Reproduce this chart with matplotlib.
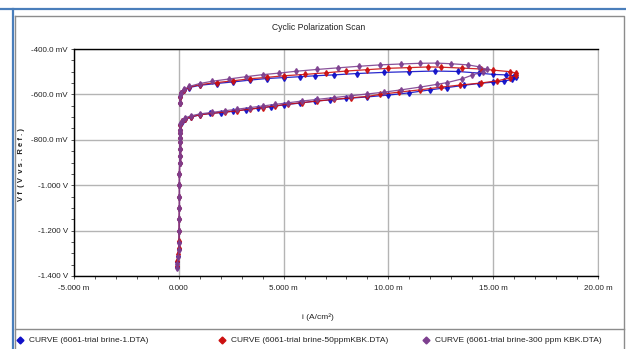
import matplotlib

matplotlib.use("Agg")
import matplotlib.pyplot as plt
from matplotlib.lines import Line2D
from matplotlib.ticker import FixedLocator, MultipleLocator

plt.rcParams["font.family"] = ["Liberation Sans Narrow", "Liberation Sans", "DejaVu Sans"]

# currents in mA/cm2, potentials in mV
i_blue = [-0.10, -0.07, -0.04, 0.00, 0.01, 0.02, 0.02, 0.03, 0.03, 0.03, 0.03, 0.04,
          0.04, 0.04, 0.05, 0.05, 0.05,
          0.06, 0.08, 0.15, 0.3, 0.6, 1.0, 1.5, 2.0, 2.6, 3.2, 3.8, 4.4, 5.0, 5.8,
          6.5, 7.2, 8.0, 9.0, 10.0, 11.0, 12.0, 12.8, 13.6, 14.3, 15.0, 15.5, 15.9,
          16.1, 16.0,
          15.6, 15.0, 14.3, 13.3, 12.2, 11.0, 9.8, 8.5, 7.4, 6.5, 5.8, 5.0, 4.2,
          3.4, 2.6, 1.8, 1.0, 0.5, 0.25, 0.12, 0.06, 0.04]
v_blue = [-1360, -1340, -1310, -1280, -1250, -1200, -1150, -1100, -1050, -1000, -950, -900,
          -870, -840, -810, -790, -770,
          -755, -735, -720, -710, -700, -690, -684, -680, -674, -667, -660, -654, -646, -638,
          -630, -624, -618, -611, -603, -593, -580, -570, -560, -552, -546, -542, -534,
          -524, -518,
          -514, -512, -506, -499, -497, -500, -503, -508, -514, -518, -522, -526, -530,
          -537, -545, -552, -560, -570, -582, -595, -610, -640]

i_red = [-0.10, -0.07, -0.04, 0.00, 0.01, 0.02, 0.02, 0.03, 0.03, 0.03, 0.03, 0.04,
         0.04, 0.04, 0.05, 0.05, 0.05,
         0.06, 0.08, 0.15, 0.3, 0.6, 1.0, 1.6, 2.2, 2.8, 3.4, 4.0, 4.6, 5.2, 5.9,
         6.6, 7.4, 8.2, 9.0, 9.6, 10.5, 11.5, 12.5, 13.4, 14.4, 15.2, 15.8, 16.1,
         16.1, 15.8, 15.0, 14.4, 13.5, 12.5, 11.9, 11.0, 10.0, 9.0, 8.0, 7.0, 6.0,
         5.0, 4.2, 3.4, 2.6, 1.8, 1.0, 0.5, 0.25, 0.12, 0.06, 0.04]
v_red = [-1355, -1335, -1305, -1275, -1245, -1200, -1150, -1100, -1050, -1000, -950, -900,
         -870, -840, -810, -790, -770,
         -755, -733, -718, -708, -698, -690, -683, -678, -672, -665, -658, -651, -643, -636,
         -629, -622, -615, -609, -600, -590, -580, -568, -559, -550, -540, -528, -515,
         -506, -500, -493, -488, -484, -480, -479, -482, -485, -491, -497, -505, -512,
         -518, -525, -531, -540, -548, -557, -568, -580, -594, -610, -640]

i_purple = [-0.10, -0.07, -0.04, 0.00, 0.01, 0.02, 0.02, 0.03, 0.03, 0.03, 0.03, 0.04,
            0.04, 0.04, 0.05, 0.05, 0.05,
            0.06, 0.08, 0.15, 0.3, 0.6, 1.0, 1.6, 2.2, 2.8, 3.4, 4.0, 4.6, 5.2, 5.9,
            6.6, 7.4, 8.2, 9.0, 9.8, 10.6, 11.5, 12.3, 12.8, 13.5, 14.0, 14.5, 14.7,
            14.3, 13.8, 13.0, 12.3, 11.5, 10.6, 9.6, 8.6, 7.6, 6.6, 5.6, 4.8, 4.0,
            3.2, 2.4, 1.6, 1.0, 0.5, 0.25, 0.12, 0.06, 0.04]
v_purple = [-1365, -1345, -1315, -1285, -1255, -1200, -1150, -1100, -1050, -1000, -950, -900,
            -870, -840, -810, -790, -770,
            -755, -730, -715, -703, -694, -686, -679, -672, -665, -658, -651, -644, -637, -629,
            -622, -614, -606, -598, -590, -580, -568, -556, -548, -532, -515, -500, -490,
            -478, -470, -465, -462, -463, -466, -470, -476, -483, -490, -498, -506, -513,
            -522, -532, -542, -552, -565, -578, -592, -608, -640]

labels = ["CURVE (6061-trial brine-1.DTA)",
          "CURVE (6061-trial brine-50ppmKBK.DTA)",
          "CURVE (6061-trial brine-300 ppm KBK.DTA)"]
colors = ["#1010c8", "#cc1010", "#7d3f8f"]

x_ticks = [-5, 0, 5, 10, 15, 20]
x_ticklabels = ["-5.000 m", "0.000", "5.000 m", "10.00 m", "15.00 m", "20.00 m"]
y_ticks = [-1400, -1200, -1000, -800, -600, -400]
y_ticklabels = ["-1.400 V", "-1.200 V", "-1.000 V", "-800.0 mV", "-600.0 mV", "-400.0 mV"]

fig = plt.figure(figsize=(6.26, 3.49), dpi=100)
W, H = 626.0, 349.0

# window frame
fig.add_artist(Line2D([0, 1], [1 - 9 / H] * 2, color="#4a7ebb", lw=1.6))
fig.add_artist(Line2D([13 / W] * 2, [0, 1 - 9 / H], color="#4a7ebb", lw=1.6))
fig.add_artist(Line2D([15 / W, 624 / W, 624 / W], [1 - 16 / H, 1 - 16 / H, 0], color="#8c8c8c", lw=1.0))
fig.add_artist(Line2D([15 / W] * 2, [0, 1 - 16 / H], color="#8c8c8c", lw=1.0))
fig.add_artist(Line2D([15 / W, 624 / W], [1 - 329 / H] * 2, color="#8c8c8c", lw=1.0))

ax = fig.add_axes([74 / W, 1 - 276 / H, (598 - 74) / W, (276 - 49) / H])

series = [(i_blue, v_blue), (i_red, v_red), (i_purple, v_purple)]
for (xs, ys), c in zip(series, colors):
    ax.plot(xs, ys, color=c, lw=0.9, marker="d", ms=3.0, mec=c, mfc=c, alpha=0.9)

ax.set_xlim(-5, 20)
ax.set_ylim(-1400, -400)
ax.xaxis.set_major_locator(FixedLocator(x_ticks))
ax.set_xticklabels(x_ticklabels)
ax.yaxis.set_major_locator(FixedLocator(y_ticks))
ax.set_yticklabels(y_ticklabels)
ax.xaxis.set_minor_locator(MultipleLocator(1))
ax.yaxis.set_minor_locator(MultipleLocator(50))
ax.tick_params(axis="both", which="both", direction="out", length=2.5, width=0.7,
               color="#555555", labelsize=5.8, labelcolor="#222222")
ax.tick_params(axis="x", pad=4)
ax.tick_params(axis="y", pad=2)
ax.grid(True, which="major", color="#b4b4b4", lw=1.0)
ax.set_axisbelow(True)
for side in ["left", "top", "bottom"]:
    ax.spines[side].set_color("black")
    ax.spines[side].set_linewidth(1.0)
ax.spines["right"].set_color("#b4b4b4")

fig.text(319 / W, 1 - 27 / H, "Cyclic Polarization Scan", ha="center", va="center",
         fontsize=6.2, color="#222222")
fig.text(318 / W, 1 - 317 / H, "i (A/cm²)", ha="center", va="center",
         fontsize=6, color="#222222")
fig.text(22 / W, 1 - 165 / H, "V f  ( V  v s .  R e f . )", ha="center", va="center",
         rotation=90, fontsize=5.5, color="#222222", fontweight="bold")

# legend row
leg_x = [20, 222, 426]
for x, lab, c in zip(leg_x, labels, colors):
    fig.add_artist(Line2D([x / W], [1 - 340 / H], marker="D", ms=3.5, color=c, lw=0))
    fig.text((x + 9) / W, 1 - 340 / H, lab, ha="left", va="center", fontsize=6, color="#222222")

fig.savefig("out.png", dpi=100, facecolor="white")
